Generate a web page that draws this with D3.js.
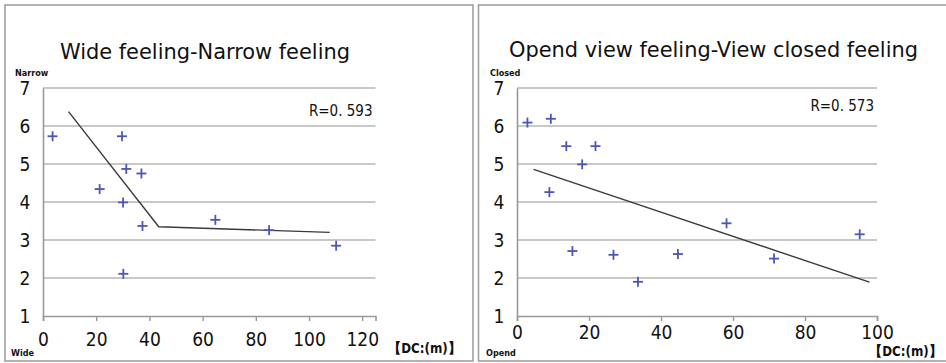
<!DOCTYPE html>
<html>
<head>
<meta charset="utf-8">
<script src="https://cdn.jsdelivr.net/npm/d3@7"></script>
<style>
  body { margin: 0; background: #fff; }
  text { font-family: "Liberation Sans Narrow", "DejaVu Sans Condensed", "Liberation Sans", sans-serif; fill: #111; }
</style>
</head>
<body>
<svg width="946" height="363"></svg>
<script>
// data
var yTicks = [1, 2, 3, 4, 5, 6, 7];

var wideTitle = "Wide feeling-Narrow feeling";
var wideX = [3.6, 29.7, 31.3, 37, 21.3, 30.1, 37.4, 30.2, 64.8, 85, 110.2];
var wideY = [5.73, 5.73, 4.87, 4.75, 4.34, 3.99, 3.37, 2.11, 3.53, 3.26, 2.85];
var wideLineX = [9.6, 43.5, 107.8];
var wideLineY = [6.38, 3.35, 3.20];
var wideXTicks = [0, 20, 40, 60, 80, 100, 120];
var wideR = "R=0. 593";

var viewTitle = "Opend view feeling-View closed feeling";
var viewX = [2.9, 9.4, 13.7, 21.8, 18.1, 9.0, 15.4, 26.8, 33.6, 44.7, 58.2, 71.4, 95.2];
var viewY = [6.09, 6.19, 5.47, 5.47, 4.99, 4.26, 2.71, 2.61, 1.90, 2.63, 3.44, 2.51, 3.15];
var viewLineX = [4.6, 97.9];
var viewLineY = [4.86, 1.89];
var viewXTicks = [0, 20, 40, 60, 80, 100];
var viewR = "R=0. 573";

var svg = d3.select("svg");

// panel frames
svg.append("rect").attr("x", 5).attr("y", 5).attr("width", 468).attr("height", 356)
   .attr("fill", "none").attr("stroke", "#a0a0a0").attr("stroke-width", 1.6);
svg.append("rect").attr("x", 478.5).attr("y", 5).attr("width", 480).attr("height", 356)
   .attr("fill", "none").attr("stroke", "#a0a0a0").attr("stroke-width", 1.6);

function drawPanel(p) {
  var x = d3.scaleLinear().domain(p.xDomain).range(p.xRange);
  var y = d3.scaleLinear().domain([1, 7]).range([316, 88]);
  var g = svg.append("g");

  // title
  g.append("text")
    .attr("x", p.titleX).attr("y", p.titleY)
    .attr("text-anchor", "middle")
    .attr("font-size", 22)
    .attr("textLength", p.titleW).attr("lengthAdjust", "spacingAndGlyphs")
    .text(p.title);

  // gridlines
  g.selectAll(".grid").data(yTicks.slice(1)).enter().append("line")
    .attr("x1", p.xRange[0]).attr("x2", p.xRange[1])
    .attr("y1", d => y(d)).attr("y2", d => y(d))
    .attr("stroke", "#c8c8c8").attr("stroke-width", 2);

  // axes
  var xAxis = g.append("g").attr("transform", "translate(0," + y(1) + ")")
    .call(d3.axisBottom(x).tickValues(p.xTicks).tickSize(5).tickFormat(d3.format("d")));
  xAxis.select(".domain").attr("stroke", "#999").attr("stroke-width", 1.6);
  xAxis.selectAll(".tick line").attr("stroke", "#999").attr("stroke-width", 1.4);
  xAxis.selectAll(".tick text").attr("font-size", 19).attr("font-family", null)
    .attr("y", p.xLabelDy).attr("dy", "0.35em");

  var yAxis = g.append("g").attr("transform", "translate(" + p.xRange[0] + ",0)")
    .call(d3.axisLeft(y).tickValues(yTicks).tickSize(0).tickFormat(d3.format("d")));
  yAxis.select(".domain").attr("stroke", "#999").attr("stroke-width", 1.6);
  yAxis.selectAll(".tick text").attr("font-size", 19).attr("font-family", null)
    .attr("text-anchor", "middle").attr("x", -18);
  g.selectAll(".domain").attr("fill", "none");

  // fitted line
  var pts = p.lineX.map((d, i) => [d, p.lineY[i]]);
  g.append("path")
    .attr("d", d3.line().x(d => x(d[0])).y(d => y(d[1]))(pts))
    .attr("fill", "none").attr("stroke", "#3a3a3a").attr("stroke-width", 1.4);

  // plus markers
  var data = p.px.map((d, i) => [d, p.py[i]]);
  var m = g.selectAll(".pt").data(data).enter().append("g")
    .attr("transform", d => "translate(" + x(d[0]) + "," + y(d[1]) + ")");
  m.append("line").attr("x1", -5).attr("x2", 5).attr("stroke", "#4a56b8").attr("stroke-width", 1.8);
  m.append("line").attr("y1", -5).attr("y2", 5).attr("stroke", "#4a56b8").attr("stroke-width", 1.8);

  // labels
  g.append("text").attr("x", p.xRange[1] - 3).attr("y", p.rY).attr("dy", "0.35em")
    .attr("text-anchor", "end").attr("font-size", 15).text(p.r);
  g.append("text").attr("x", p.topLabX).attr("y", 73).attr("dy", "0.35em")
    .attr("font-size", 9).attr("font-weight", "bold").attr("fill", "#333").text(p.topLab);
  g.append("text").attr("x", p.botLabX).attr("y", 353).attr("dy", "0.35em")
    .attr("font-size", 9).attr("font-weight", "bold").attr("fill", "#333").text(p.botLab);
  g.append("text").attr("x", p.dcX).attr("y", p.dcY).attr("dy", "0.35em")
    .attr("font-size", 14).attr("font-weight", "bold")
    .attr("textLength", 73).attr("lengthAdjust", "spacingAndGlyphs")
    .text("【DC:(m)】");
}

drawPanel({
  title: wideTitle, titleX: 205, titleY: 59, titleW: 290,
  xDomain: [0, 125], xRange: [43, 375.5], xTicks: wideXTicks, xLabelDy: 23,
  px: wideX, py: wideY, lineX: wideLineX, lineY: wideLineY,
  r: wideR, rY: 111,
  topLab: "Narrow", topLabX: 15, botLab: "Wide", botLabX: 11,
  dcX: 388, dcY: 348
});

drawPanel({
  title: viewTitle, titleX: 713.5, titleY: 57, titleW: 409,
  xDomain: [0, 100], xRange: [517, 877], xTicks: viewXTicks, xLabelDy: 16,
  px: viewX, py: viewY, lineX: viewLineX, lineY: viewLineY,
  r: viewR, rY: 106,
  topLab: "Closed", topLabX: 490, botLab: "Opend", botLabX: 486,
  dcX: 869, dcY: 351
});
</script>
</body>
</html>
